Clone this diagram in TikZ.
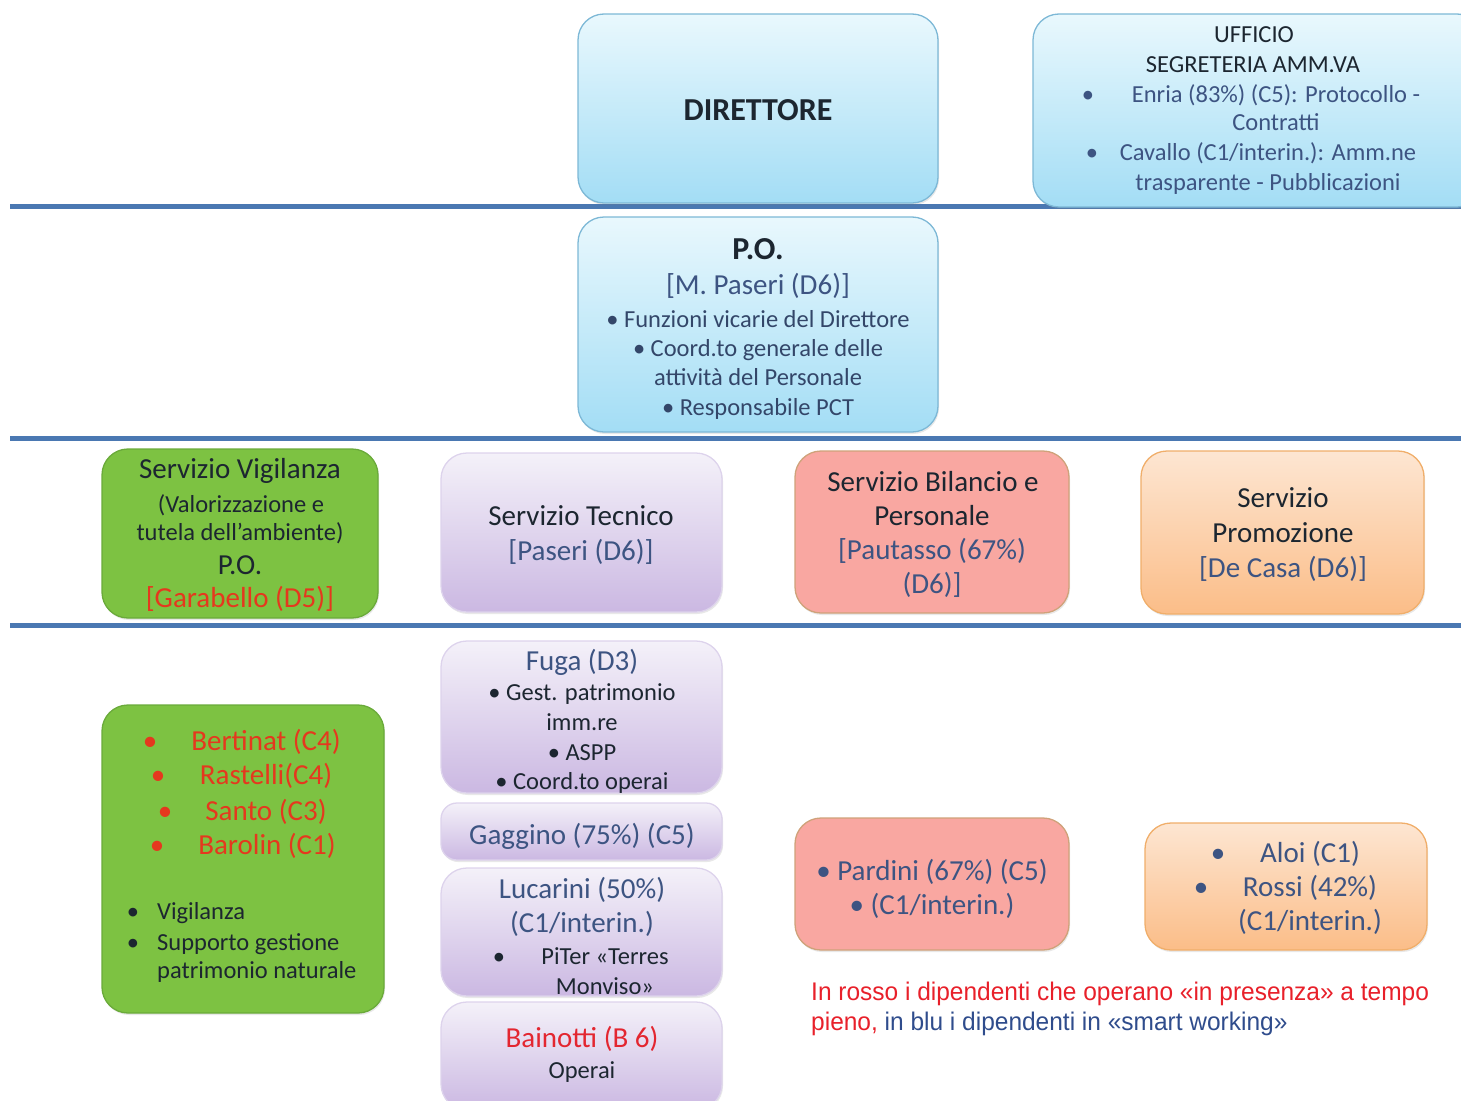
\documentclass[tikz,border=0pt]{standalone}
\usepackage{fontspec}
\setmainfont{Carlito}
\newfontfamily\legfont{Liberation Sans}
\usetikzlibrary{shadows}
\definecolor{linecol}{HTML}{4A78B2}
\definecolor{darktxt}{HTML}{1C2630}
\definecolor{bluetxt}{HTML}{3D5482}
\definecolor{redtxt}{HTML}{E5381E}
\definecolor{redB}{HTML}{E32630}
\definecolor{legred}{HTML}{E8202A}
\definecolor{legblue}{HTML}{2F4C8C}
\definecolor{cyanTop}{HTML}{E9F8FD}
\definecolor{cyanBot}{HTML}{A3DDF5}
\definecolor{cyanDraw}{HTML}{7DB8D6}
\definecolor{lavTop}{HTML}{F4F1F9}
\definecolor{lavBot}{HTML}{CBB8E2}
\definecolor{lavDraw}{HTML}{DDD3EC}
\definecolor{greenFill}{HTML}{7DC242}
\definecolor{greenDraw}{HTML}{6AAA3A}
\definecolor{pinkFill}{HTML}{F9A7A1}
\definecolor{pinkDraw}{HTML}{CFA27A}
\definecolor{orTop}{HTML}{FDE6D2}
\definecolor{orBot}{HTML}{FBBD88}
\definecolor{orDraw}{HTML}{F0AE6A}
\newcommand\fbig{\fontsize{32}{38}\selectfont}
\newcommand\fmid{\fontsize{29}{34}\selectfont}
\newcommand\fsml{\fontsize{24.5}{29}\selectfont}
\tikzset{
  box/.style={rounded corners=26pt, line width=1.3pt, inner sep=0pt,
    drop shadow={opacity=0.18, shadow xshift=1pt, shadow yshift=-2pt}},
  bluebox/.style={box, draw=cyanDraw, top color=cyanTop, bottom color=cyanBot},
  lavbox/.style={box, draw=lavDraw, top color=lavTop, bottom color=lavBot},
  greenbox/.style={box, draw=greenDraw, fill=greenFill},
  pinkbox/.style={box, draw=pinkDraw, fill=pinkFill},
  orbox/.style={box, draw=orDraw, top color=orTop, bottom color=orBot},
  txt/.style={inner sep=0pt, anchor=mid, yshift=-7pt, text=darktxt, font=\fsml},
  tmid/.style={txt, font=\fmid},
  tlbl/.style={inner sep=0pt, anchor=mid west, yshift=-7pt, font=\fsml, text=darktxt},
  sepline/.style={draw=linecol, line width=5pt}
}
\begin{document}
\begin{tikzpicture}[x=1pt,y=-1pt]
\useasboundingbox (0,0) rectangle (1461,1100);
\clip (0,0) rectangle (1461,1100);
% separator lines
\coordinate (l1a) at (10,206); \coordinate (l1b) at (1461,206);
\coordinate (l2a) at (10,438); \coordinate (l2b) at (1461,438);
\coordinate (l3a) at (10,625); \coordinate (l3b) at (1461,625);
\draw[sepline] (l1a) -- (l1b);
\draw[sepline] (l2a) -- (l2b);
\draw[sepline] (l3a) -- (l3b);

% boxes
\node[bluebox, minimum width=360, minimum height=189] (dir) at (758,108.5) {};
\node[bluebox, minimum width=450, minimum height=193] (uff) at (1258,110.5) {};
\node[bluebox, minimum width=360, minimum height=215] (po) at (758,324.5) {};
\node[greenbox, minimum width=276, minimum height=169] (vig) at (240,533.5) {};
\node[lavbox, minimum width=281, minimum height=159] (tec) at (581.5,532.5) {};
\node[pinkbox, minimum width=274, minimum height=162] (bil) at (932,532) {};
\node[orbox, minimum width=283, minimum height=163] (pro) at (1282.5,532.5) {};
\node[greenbox, minimum width=282, minimum height=308] (vig2) at (243,859) {};
\node[lavbox, minimum width=281, minimum height=152] (fuga) at (581.5,717) {};
\node[lavbox, rounded corners=16pt, minimum width=281, minimum height=57] (gag) at (581.5,831.5) {};
\node[lavbox, minimum width=281, minimum height=128] (luc) at (581.5,932) {};
\node[lavbox, minimum width=281, minimum height=108] (bai) at (581.5,1056) {};
\node[pinkbox, minimum width=274, minimum height=132] (par) at (932,884) {};
\node[orbox, minimum width=282, minimum height=127] (alo) at (1286,886.5) {};

% DIRETTORE
\node[txt, font=\fbig\bfseries] (dirT) at (758,111) {DIRETTORE};

% Ufficio
\node[txt] (uf1) at (1254,33) {UFFICIO};
\node[txt] (uf2) at (1253,63) {SEGRETERIA AMM.VA};
\node[txt, text=bluetxt] (ufb1) at (1088,93) {•};
\node[txt, text=bluetxt] (uf3) at (1276,93) {Enria (83\%) (C5): Protocollo -};
\node[txt, text=bluetxt] (uf4) at (1276,121) {Contratti};
\node[txt, text=bluetxt] (ufb2) at (1092,151) {•};
\node[txt, text=bluetxt] (uf5) at (1268,151) {Cavallo (C1/interin.): Amm.ne};
\node[txt, text=bluetxt] (uf6) at (1268,181) {trasparente - Pubblicazioni};

% P.O.
\node[txt, font=\fbig\bfseries] (po1) at (758,250) {P.O.};
\node[txt, font=\fmid, text=bluetxt] (po2) at (758,285) {[M. Paseri (D6)]};
\node[txt, text=bluetxt!70!darktxt] (po3) at (758,318) {• Funzioni vicarie del Direttore};
\node[txt, text=bluetxt!70!darktxt] (po4) at (758,347) {• Coord.to generale delle};
\node[txt, text=bluetxt!70!darktxt] (po5) at (758,376) {attività del Personale};
\node[txt, text=bluetxt!70!darktxt] (po6) at (758,406) {• Responsabile PCT};

% Vigilanza
\node[tmid] (vg1) at (240,469) {Servizio Vigilanza};
\node[txt] (vg2) at (241,503) {(Valorizzazione e};
\node[txt] (vg3) at (240,531) {tutela dell’ambiente)};
\node[tmid] (vg4) at (240,565) {P.O.};
\node[tmid, text=redtxt] (vg5) at (240,598) {[Garabello (D5)]};

% Tecnico
\node[tmid] (tc1) at (581,516) {Servizio Tecnico};
\node[tmid, text=bluetxt] (tc2) at (581,551) {[Paseri (D6)]};

% Bilancio
\node[tmid] (bl1) at (933,482) {Servizio Bilancio e};
\node[tmid] (bl2) at (932,516) {Personale};
\node[tmid, text=bluetxt] (bl3) at (932,550) {[Pautasso (67\%)};
\node[tmid, text=bluetxt] (bl4) at (932,584) {(D6)]};

% Promozione
\node[tmid] (pr1) at (1283,498) {Servizio};
\node[tmid] (pr2) at (1283,533) {Promozione};
\node[tmid, text=bluetxt] (pr3) at (1283,568) {[De Casa (D6)]};

% Vigilanza staff
\node[tmid, text=redtxt] (vb1) at (150,741) {•};
\node[tmid, text=redtxt] (vn1) at (266,741) {Bertinat (C4)};
\node[tmid, text=redtxt] (vb2) at (158,775) {•};
\node[tmid, text=redtxt] (vn2) at (266,775) {Rastelli(C4)};
\node[tmid, text=redtxt] (vb3) at (165,811) {•};
\node[tmid, text=redtxt] (vn3) at (266,811) {Santo (C3)};
\node[tmid, text=redtxt] (vb4) at (157,845) {•};
\node[tmid, text=redtxt] (vn4) at (267,845) {Barolin (C1)};
\node[txt] (vb5) at (133,910) {•};
\node[tlbl] (vt1) at (157,910) {Vigilanza};
\node[txt] (vb6) at (133,941) {•};
\node[tlbl] (vt2) at (157,941) {Supporto gestione};
\node[tlbl] (vt3) at (157,969) {patrimonio naturale};

% Fuga
\node[tmid, text=bluetxt] (fg1) at (582,661) {Fuga (D3)};
\node[txt] (fg2) at (582,691) {• Gest. patrimonio};
\node[txt] (fg3) at (582,721) {imm.re};
\node[txt] (fg4) at (582,751) {• ASPP};
\node[txt] (fg5) at (582,780) {• Coord.to operai};

% Gaggino
\node[tmid, text=bluetxt] (gg1) at (582,835) {Gaggino (75\%) (C5)};

% Lucarini
\node[tmid, text=bluetxt] (lc1) at (582,889) {Lucarini (50\%)};
\node[tmid, text=bluetxt] (lc2) at (582,923) {(C1/interin.)};
\node[txt] (lcb) at (499,955) {•};
\node[txt] (lc3) at (605,955) {PiTer «Terres};
\node[txt] (lc4) at (605,985) {Monviso»};

% Bainotti
\node[tmid, text=redB] (bn1) at (582,1038) {Bainotti (B 6)};
\node[txt] (bn2) at (582,1069) {Operai};

% Pardini
\node[tmid, text=bluetxt] (pd1) at (932,871) {• Pardini (67\%) (C5)};
\node[tmid, text=bluetxt] (pd2) at (932,905) {• (C1/interin.)};

% Aloi / Rossi
\node[tmid, text=bluetxt] (alb1) at (1218,853) {•};
\node[tmid, text=bluetxt] (al1) at (1310,853) {Aloi (C1)};
\node[tmid, text=bluetxt] (alb2) at (1201,887) {•};
\node[tmid, text=bluetxt] (al2) at (1310,887) {Rossi (42\%)};
\node[tmid, text=bluetxt] (al3) at (1310,921) {(C1/interin.)};

% legend
\node[inner sep=0pt, anchor=mid west, yshift=-6pt, text=legred] (lg1) at (811,992)
  {\legfont\fontsize{25.5}{30}\selectfont\scalebox{0.96}[1]{In rosso i dipendenti che operano «in presenza» a tempo}};
\node[inner sep=0pt, anchor=mid west, yshift=-6pt] (lg2) at (811,1022)
  {\legfont\fontsize{25.5}{30}\selectfont\scalebox{0.96}[1]{\textcolor{legred}{pieno,} \textcolor{legblue}{in blu i dipendenti in «smart working»}}};
\end{tikzpicture}
\end{document}
